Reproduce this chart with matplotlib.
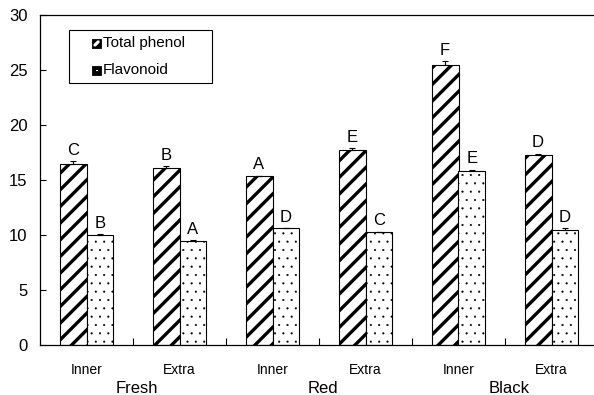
import matplotlib
matplotlib.use("Agg")
import matplotlib.pyplot as plt
import numpy as np
from matplotlib.patches import Rectangle, Polygon

plt.rcParams['font.family'] = ['Liberation Sans', 'DejaVu Sans']

categories = ["Inner", "Extra", "Inner", "Extra", "Inner", "Extra"]
groups = ["Fresh", "Red", "Black"]
total_phenol = [16.5, 16.1, 15.35, 17.7, 25.5, 17.25]
total_phenol_err = [0.2, 0.15, 0.05, 0.2, 0.3, 0.15]
flavonoid = [10.0, 9.5, 10.6, 10.25, 15.85, 10.5]
flavonoid_err = [0.1, 0.05, 0.05, 0.05, 0.1, 0.1]
tp_letters = ["C", "B", "A", "E", "F", "D"]
fl_letters = ["B", "A", "D", "C", "E", "D"]
legend_labels = ["Total phenol", "Flavonoid"]

fig = plt.figure(figsize=(5.94, 3.95), dpi=100)
AX_L, AX_T, AX_W, AX_H = 40, 15, 558, 330
ax = fig.add_axes([AX_L/594, (395 - AX_T - AX_H)/395, AX_W/594, AX_H/395])

def ax_xy(px, py):
    return (px - AX_L) / AX_W, (AX_T + AX_H - py) / AX_H

x = np.arange(len(categories))
w = 0.29

plt.rcParams['hatch.linewidth'] = 2.4
b1 = ax.bar(x - w/2, total_phenol, w, color='white', edgecolor='black',
            linewidth=0.8, hatch='//')
plt.rcParams['hatch.linewidth'] = 0.3
b2 = ax.bar(x + w/2, flavonoid, w, color='white', edgecolor='black',
            linewidth=0.8, hatch='..')

ax.errorbar(x - w/2, total_phenol, yerr=[np.zeros(6), total_phenol_err],
            fmt='none', ecolor='black', elinewidth=0.8, capsize=2.2, capthick=0.8)
ax.errorbar(x + w/2, flavonoid, yerr=[np.zeros(6), flavonoid_err],
            fmt='none', ecolor='black', elinewidth=0.8, capsize=2.2, capthick=0.8)

for xi, v, e, t in zip(x - w/2, total_phenol, total_phenol_err, tp_letters):
    ax.text(xi, v + e + 0.3, t, ha='center', va='bottom', fontsize=12)
for xi, v, e, t in zip(x + w/2, flavonoid, flavonoid_err, fl_letters):
    ax.text(xi, v + e + 0.3, t, ha='center', va='bottom', fontsize=12)

ax.set_xlim(-0.5, 5.5)
ax.set_ylim(0, 30)
ax.set_yticks([0, 5, 10, 15, 20, 25, 30])
ax.tick_params(axis='y', direction='in', length=4, labelsize=12, width=0.8, pad=9)
ax.set_xticks(np.arange(0.5, 5.5, 1.0))
ax.set_xticklabels([])
ax.tick_params(axis='x', direction='in', length=5, width=0.8)
for xi, c in zip(x, categories):
    ax.text(xi, -1.6, c, ha='center', va='top', fontsize=10)
for gi, g in enumerate(groups):
    ax.text(2*gi + 0.5 + 0.04, -3.3, g, ha='center', va='top', fontsize=12)

for s in ax.spines.values():
    s.set_linewidth(0.9)

# legend drawn manually
x0, y0 = ax_xy(69, 83)
x1, y1 = ax_xy(212, 30)
ax.add_patch(Rectangle((x0, y0), x1 - x0, y1 - y0, transform=ax.transAxes,
                       facecolor='white', edgecolor='black', linewidth=0.8, zorder=5))

def px_poly(pts):
    return [ax_xy(px, py) for px, py in pts]

for i, lab in enumerate(legend_labels):
    cy = 43.5 + 27 * i
    mx0, my0 = ax_xy(92, cy + 4.5)
    mx1, my1 = ax_xy(101, cy - 4.5)
    ax.add_patch(Rectangle((mx0, my0), mx1 - mx0, my1 - my0, transform=ax.transAxes,
                           facecolor='black', edgecolor='black', linewidth=0.6, zorder=6))
    if i == 0:
        a0, a1 = 93.5, 99.5
        b0, b1_ = cy + 3, cy - 3
        band = [(a0, b0 - 0.2), (a0, b0 - 2.2), (a1 - 2.2, b1_), (a1, b1_),
                (a1, b1_ + 2.2), (a0 + 2.2, b0)]
        ax.add_patch(Polygon(px_poly(band), closed=True, transform=ax.transAxes,
                             facecolor='white', edgecolor='none', zorder=7))
    else:
        dx0, dy0 = ax_xy(96, cy + 0.8)
        dx1, dy1 = ax_xy(97.6, cy - 0.8)
        ax.add_patch(Rectangle((dx0, dy0), dx1 - dx0, dy1 - dy0, transform=ax.transAxes,
                               facecolor='white', edgecolor='none', zorder=7))
    tx, ty = ax_xy(103, cy)
    ax.text(tx, ty, lab, transform=ax.transAxes, ha='left', va='center',
            fontsize=11, zorder=7)

fig.savefig("out.png", dpi=100)
